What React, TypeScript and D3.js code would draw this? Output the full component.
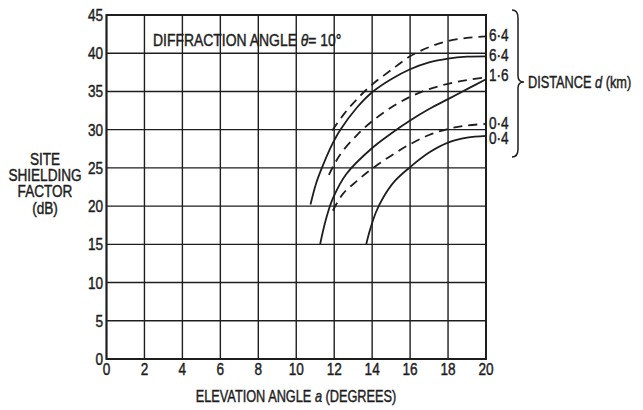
import React from "react";
import * as d3 from "d3";

const W = 643;
const H = 410;

const xTicks = [0, 2, 4, 6, 8, 10, 12, 14, 16, 18, 20];
const yTicks = [0, 5, 10, 15, 20, 25, 30, 35, 40, 45];

// [elevation angle, site shielding factor]
const solid64: [number, number][] = [
  [10.75, 20.2], [11.05, 23], [11.4, 25.3], [11.9, 28.1], [12.3, 29.9], [13.2, 32.9],
  [14, 34.9], [15, 36.6], [16, 37.9], [17, 38.8], [18, 39.3], [19, 39.55], [20, 39.6],
];
const dashed64: [number, number][] = [
  [11.9, 29.9], [12.5, 32], [13.2, 34], [14, 35.9], [15, 37.8], [16, 39.6],
  [17, 40.8], [18, 41.6], [19, 42], [20, 42.2],
];
const solid16: [number, number][] = [
  [11.26, 15.05], [11.58, 18.4], [11.93, 21], [12.64, 24.2], [14, 27.6], [15, 29.5],
  [16, 31.2], [17, 32.7], [18, 34], [19, 35.3], [20, 36.6],
];
const dashed16: [number, number][] = [
  [11.72, 24.1], [12.3, 26.7], [13.2, 29.3], [14, 31.1], [15, 32.9], [16, 34.3],
  [17, 35.3], [18, 36], [19, 36.5], [20, 36.85],
];
const solid04: [number, number][] = [
  [13.69, 15.05], [13.9, 17], [14.2, 19.2], [14.6, 21.2], [15.2, 23.3], [16, 25.1],
  [17, 27], [18, 28.3], [19, 28.95], [20, 29.2],
];
const dashed04: [number, number][] = [
  [11.93, 19.4], [12.46, 21.6], [13.2, 23.3], [14, 24.9], [15, 26.6], [16, 28.1],
  [17, 29.3], [18, 30.1], [19, 30.55], [20, 30.75],
];

const curves = [
  { data: dashed64, dashed: true },
  { data: solid64, dashed: false },
  { data: dashed16, dashed: true },
  { data: solid16, dashed: false },
  { data: dashed04, dashed: true },
  { data: solid04, dashed: false },
];
const rightLabels = [
  { text: "6·4", v: 42.4 },
  { text: "6·4", v: 39.8 },
  { text: "1·6", v: 37.1 },
  { text: "0·4", v: 30.9 },
  { text: "0·4", v: 28.9 },
];
const yLabelLines = ["SITE", "SHIELDING", "FACTOR", "(dB)"];

const FONT = "'Liberation Sans', Arial, sans-serif";
const INK = "#1e1e1e";
const TSTROKE = 0.45;

function NText(props: {
  x: number;
  y: number;
  anchor?: "start" | "middle" | "end";
  size?: number;
  sx?: number;
  children: React.ReactNode;
}) {
  const { x, y, anchor = "start", size = 17, sx = 0.8, children } = props;
  return (
    <g transform={`translate(${x},${y}) scale(${sx},1)`}>
      <text x={0} y={0} textAnchor={anchor} fontSize={size} fill={INK} stroke={INK} strokeWidth={TSTROKE}>
        {children}
      </text>
    </g>
  );
}

export default function App() {
  const left = 106.5, right = 486, top = 15, bottom = 359;
  const x = d3.scaleLinear().domain([0, 20]).range([left, right]);
  const y = d3.scaleLinear().domain([0, 45]).range([bottom, top]);
  const line = d3
    .line<[number, number]>()
    .x((d) => x(d[0]))
    .y((d) => y(d[1]))
    .curve(d3.curveCatmullRom.alpha(0.5));

  const bx = 518, btop = 10, bbot = 157, bmid = 82;
  const brace = `M ${bx - 6} ${btop} Q ${bx} ${btop} ${bx} ${btop + 8} L ${bx} ${bmid - 6} Q ${bx} ${bmid} ${bx + 6} ${bmid} Q ${bx} ${bmid} ${bx} ${bmid + 6} L ${bx} ${bbot - 8} Q ${bx} ${bbot} ${bx - 6} ${bbot}`;

  return (
    <svg
      width={W}
      height={H}
      style={{ position: "absolute", left: 0, top: 0, background: "#fff" }}
      fontFamily={FONT}
    >
      <rect x={0} y={0} width={W} height={H} fill="#fff" />
      {/* grid */}
      {xTicks.map((t) => (
        <line key={"gx" + t} x1={x(t)} x2={x(t)} y1={top} y2={bottom} stroke={INK} strokeWidth={1.4} />
      ))}
      {yTicks.map((t) => (
        <line key={"gy" + t} x1={left} x2={right} y1={y(t)} y2={y(t)} stroke={INK} strokeWidth={1.4} />
      ))}
      <rect x={left} y={top} width={right - left} height={bottom - top} fill="none" stroke={INK} strokeWidth={2} />
      {/* tick labels */}
      {yTicks.map((t) => (
        <NText key={"ty" + t} x={103} y={y(t) + 6} anchor="end">
          {t}
        </NText>
      ))}
      {xTicks.map((t) => (
        <NText key={"tx" + t} x={x(t)} y={374.5} anchor="middle">
          {t}
        </NText>
      ))}
      {/* curves */}
      {curves.map((c, i) => (
        <path
          key={"c" + i}
          d={line(c.data) || ""}
          fill="none"
          stroke={INK}
          strokeWidth={1.8}
          strokeDasharray={c.dashed ? "9 6" : undefined}
        />
      ))}
      {/* curve labels (one text block) */}
      <g transform={`translate(489,0) scale(0.8,1)`}>
        <text fontSize={17} fill={INK} stroke={INK} strokeWidth={TSTROKE}>
          {rightLabels.map((l, i) => (
            <tspan key={"rl" + i} x={0} y={y(l.v) + 6}>
              {l.text}
            </tspan>
          ))}
        </text>
      </g>
      {/* brace */}
      <path d={brace} fill="none" stroke={INK} strokeWidth={1.5} />
      <NText x={528} y={bmid + 6} sx={0.75}>
        DISTANCE <tspan fontStyle="italic">d</tspan> (km)
      </NText>
      {/* title */}
      <NText x={153} y={46} sx={0.82}>
        DIFFRACTION ANGLE <tspan fontStyle="italic">θ</tspan>= 10°
      </NText>
      {/* y label (one text block) */}
      <g transform={`translate(45,0) scale(0.8,1)`}>
        <text fontSize={17} fill={INK} stroke={INK} strokeWidth={TSTROKE} textAnchor="middle">
          {yLabelLines.map((s, i) => (
            <tspan key={"yl" + i} x={0} y={165 + i * 16.2}>
              {s}
            </tspan>
          ))}
        </text>
      </g>
      {/* x label */}
      <NText x={296} y={402} anchor="middle" sx={0.75}>
        ELEVATION ANGLE <tspan fontStyle="italic">a</tspan> (DEGREES)
      </NText>
    </svg>
  );
}
